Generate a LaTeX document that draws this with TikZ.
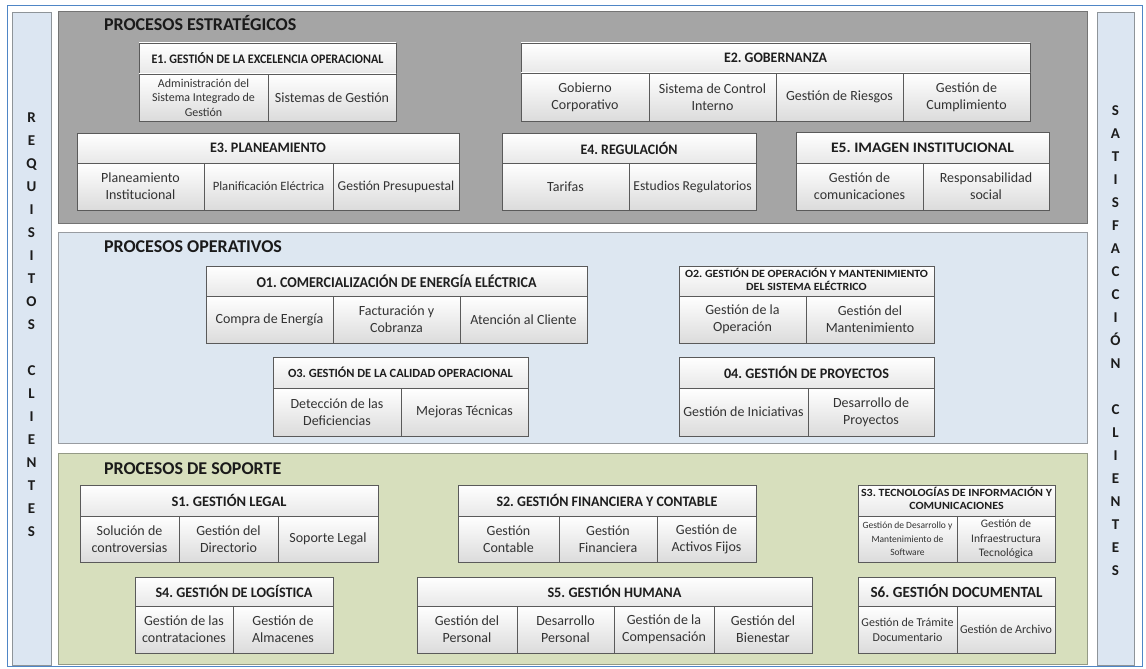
\documentclass[tikz,border=0pt]{standalone}
\usepackage{fontspec}
\setmainfont{Carlito}
\usepackage{graphicx}
\frenchspacing
\definecolor{framebl}{HTML}{4F86C6}
\definecolor{barfill}{HTML}{DCE6F2}
\definecolor{barline}{HTML}{8E9499}
\definecolor{stratfill}{HTML}{A5A5A5}
\definecolor{stratline}{HTML}{747474}
\definecolor{operfill}{HTML}{DDE7F1}
\definecolor{operline}{HTML}{989CA1}
\definecolor{supfill}{HTML}{D7DFBD}
\definecolor{supline}{HTML}{949A86}
\definecolor{boxline}{HTML}{5A5A5A}
\definecolor{hdrtxt}{HTML}{1E1E1E}
\definecolor{celtxt}{HTML}{333333}
\definecolor{titletxt}{HTML}{1A1A1A}
\definecolor{sidetxtc}{HTML}{1C1C1C}
\newsavebox\myhfbox
\newcommand\pcell[7]{%
  \pgfmathsetmacro\cw{#4-#2}%
  \pgfmathsetmacro\ch{#5-#3}%
  \node[#6, minimum width=\cw pt, minimum height=\ch pt] (#1) at ({(#2+#4)/2},{(#3+#5)/2}) {#7};%
}
\newcommand\hfit[2]{\sbox\myhfbox{#2}\pgfmathsetmacro\myhfs{#1/\wd\myhfbox}\scalebox{\myhfs}[1]{\usebox\myhfbox}}
\begin{document}
\begin{tikzpicture}[x=1pt,y=-1pt,
  every node/.style={inner sep=0pt, outer sep=0pt},
  frame/.style={draw=framebl, line width=1pt},
  sidebar/.style={draw=barline, fill=barfill, line width=0.9pt},
  panelS/.style={draw=stratline, fill=stratfill, line width=0.9pt},
  panelO/.style={draw=operline, fill=operfill, line width=0.9pt},
  panelP/.style={draw=supline, fill=supfill, line width=0.9pt},
  hdr/.style={draw=boxline, line width=0.7pt, top color=white, bottom color=black!9, align=center, text=hdrtxt, font=\fontsize{14.5}{15}\selectfont\bfseries},
  cel/.style={draw=boxline, line width=0.7pt, top color=white, bottom color=black!14, align=center, text=celtxt, font=\fontsize{14}{17}\selectfont},
  ptitle/.style={anchor=base west, font=\fontsize{18}{20}\selectfont\bfseries, text=titletxt},
  sidetxt/.style={align=center, font=\fontsize{15}{23}\selectfont\bfseries, text=sidetxtc}
]
\useasboundingbox (0,0) rectangle (1146,669);
\fill[white] (0,0) rectangle (1146,669);
\pcell{frame}{7}{6}{1142}{666}{frame}{}
% side bars
\pcell{lbar}{12}{12}{51}{665}{sidebar}{}
\pcell{rbar}{1097}{12}{1134}{665}{sidebar}{}
\node[sidetxt] (ltext) at (31.5,325) {R\\E\\Q\\U\\I\\S\\I\\T\\O\\S\\\mbox{}\\C\\L\\I\\E\\N\\T\\E\\S};
\node[sidetxt] (rtext) at (1115.5,341) {S\\A\\T\\I\\S\\F\\A\\C\\C\\I\\Ó\\N\\\mbox{}\\C\\L\\I\\E\\N\\T\\E\\S};
% panels
\pcell{pstrat}{58}{11}{1087}{223}{panelS}{}
\pcell{poper}{58}{232}{1087}{443}{panelO}{}
\pcell{psup}{58}{453}{1087}{664}{panelP}{}
\node[ptitle] (tstrat) at (104,31) {PROCESOS ESTRATÉGICOS};
\node[ptitle] (toper) at (104,252) {PROCESOS OPERATIVOS};
\node[ptitle] (tsup) at (104,474) {PROCESOS DE SOPORTE};
% E1
\pcell{e1h}{139}{43}{396}{74}{hdr,font=\fontsize{13}{14}\selectfont\bfseries}{\hfit{232}{E1. GESTIÓN DE LA EXCELENCIA OPERACIONAL}}
\pcell{e1a}{139}{74}{268}{121}{cel,font=\fontsize{12}{14.5}\selectfont}{Administración del\\Sistema Integrado de\\Gestión}
\pcell{e1b}{268}{74}{396}{121}{cel}{Sistemas de Gestión}
% E2
\pcell{e2h}{521}{43}{1030}{73}{hdr}{\hfit{103}{E2. GOBERNANZA}}
\pcell{e2a}{521}{73}{649}{121}{cel}{Gobierno\\Corporativo}
\pcell{e2b}{649}{73}{776}{121}{cel}{Sistema de Control\\Interno}
\pcell{e2c}{776}{73}{903}{121}{cel}{Gestión de Riesgos}
\pcell{e2d}{903}{73}{1030}{121}{cel}{Gestión de\\Cumplimiento}
% E3
\pcell{e3h}{77}{133}{459}{163}{hdr}{\hfit{116}{E3. PLANEAMIENTO}}
\pcell{e3a}{77}{163}{204}{210}{cel}{Planeamiento\\Institucional}
\pcell{e3b}{204}{163}{333}{210}{cel,font=\fontsize{12.7}{15}\selectfont}{Planificación Eléctrica}
\pcell{e3c}{333}{163}{459}{210}{cel,font=\fontsize{13.6}{16}\selectfont}{Gestión Presupuestal}
% E4
\pcell{e4h}{502}{133}{756}{163}{hdr}{\hfit{97}{E4. REGULACIÓN}}
\pcell{e4a}{502}{163}{629}{210}{cel}{Tarifas}
\pcell{e4b}{629}{163}{756}{210}{cel,font=\fontsize{13.6}{16}\selectfont}{Estudios Regulatorios}
% E5
\pcell{e5h}{796}{132}{1049}{163}{hdr}{\hfit{183}{E5. IMAGEN INSTITUCIONAL}}
\pcell{e5a}{796}{163}{923}{210}{cel}{Gestión de\\comunicaciones}
\pcell{e5b}{923}{163}{1049}{210}{cel}{Responsabilidad\\social}
% O1
\pcell{o1h}{206}{266}{587}{296}{hdr,font=\fontsize{15}{16}\selectfont\bfseries}{\hfit{280}{O1. COMERCIALIZACIÓN DE ENERGÍA ELÉCTRICA}}
\pcell{o1a}{206}{296}{333}{343}{cel}{Compra de Energía}
\pcell{o1b}{333}{296}{460}{343}{cel}{Facturación y\\Cobranza}
\pcell{o1c}{460}{296}{587}{343}{cel}{Atención al Cliente}
% O2
\pcell{o2h}{679}{266}{934}{296}{hdr,font=\fontsize{11}{13}\selectfont\bfseries}{\hfit{243}{\begin{tabular}{@{}c@{}}O2. GESTIÓN DE OPERACIÓN Y MANTENIMIENTO\\DEL SISTEMA ELÉCTRICO\end{tabular}}}
\pcell{o2a}{679}{296}{806}{343}{cel}{Gestión de la\\Operación}
\pcell{o2b}{806}{296}{934}{343}{cel}{Gestión del\\Mantenimiento}
% O3
\pcell{o3h}{273}{357}{528}{388}{hdr,font=\fontsize{12.5}{13}\selectfont\bfseries}{\hfit{225}{O3. GESTIÓN DE LA CALIDAD OPERACIONAL}}
\pcell{o3a}{273}{388}{401}{436}{cel}{Detección de las\\Deficiencias}
\pcell{o3b}{401}{388}{528}{436}{cel}{Mejoras Técnicas}
% O4
\pcell{o4h}{679}{357}{934}{388}{hdr}{\hfit{165}{04. GESTIÓN DE PROYECTOS}}
\pcell{o4a}{679}{388}{808}{436}{cel}{Gestión de Iniciativas}
\pcell{o4b}{808}{388}{934}{436}{cel}{Desarrollo de\\Proyectos}
% S1
\pcell{s1h}{80}{485}{378}{516}{hdr}{\hfit{115}{S1. GESTIÓN LEGAL}}
\pcell{s1a}{80}{516}{179}{562}{cel}{Solución de\\controversias}
\pcell{s1b}{179}{516}{278}{562}{cel}{Gestión del\\Directorio}
\pcell{s1c}{278}{516}{378}{562}{cel}{Soporte Legal}
% S2
\pcell{s2h}{458}{485}{756}{516}{hdr}{\hfit{221}{S2. GESTIÓN FINANCIERA Y CONTABLE}}
\pcell{s2a}{458}{516}{559}{562}{cel}{Gestión\\Contable}
\pcell{s2b}{559}{516}{657}{562}{cel}{Gestión\\Financiera}
\pcell{s2c}{657}{516}{756}{562}{cel}{Gestión de\\Activos Fijos}
% S3
\pcell{s3h}{858}{485}{1055}{516}{hdr,font=\fontsize{11}{13}\selectfont\bfseries}{\hfit{191}{\begin{tabular}{@{}c@{}}S3. TECNOLOGÍAS DE INFORMACIÓN Y\\COMUNICACIONES\end{tabular}}}
\pcell{s3a}{858}{516}{957}{562}{cel,font=\fontsize{9.5}{13.5}\selectfont}{Gestión de Desarrollo y\\Mantenimiento de\\Software}
\pcell{s3b}{957}{516}{1055}{562}{cel,font=\fontsize{11.5}{14.5}\selectfont}{Gestión de\\Infraestructura\\Tecnológica}
% S4
\pcell{s4h}{135}{577}{333}{606}{hdr}{\hfit{157}{S4. GESTIÓN DE LOGÍSTICA}}
\pcell{s4a}{135}{606}{233}{653}{cel}{Gestión de las\\contrataciones}
\pcell{s4b}{233}{606}{333}{653}{cel}{Gestión de\\Almacenes}
% S5
\pcell{s5h}{417}{577}{812}{606}{hdr}{\hfit{134}{S5. GESTIÓN HUMANA}}
\pcell{s5a}{417}{606}{517}{653}{cel}{Gestión del\\Personal}
\pcell{s5b}{517}{606}{614}{653}{cel}{Desarrollo\\Personal}
\pcell{s5c}{614}{606}{714}{653}{cel}{Gestión de la\\Compensación}
\pcell{s5d}{714}{606}{812}{653}{cel}{Gestión del\\Bienestar}
% S6
\pcell{s6h}{858}{577}{1055}{606}{hdr,font=\fontsize{15.5}{16}\selectfont\bfseries}{\hfit{172}{S6. GESTIÓN DOCUMENTAL}}
\pcell{s6a}{858}{606}{957}{653}{cel,font=\fontsize{12}{15}\selectfont}{Gestión de Trámite\\Documentario}
\pcell{s6b}{957}{606}{1055}{653}{cel,font=\fontsize{12}{15}\selectfont}{Gestión de Archivo}
\end{tikzpicture}
\end{document}
